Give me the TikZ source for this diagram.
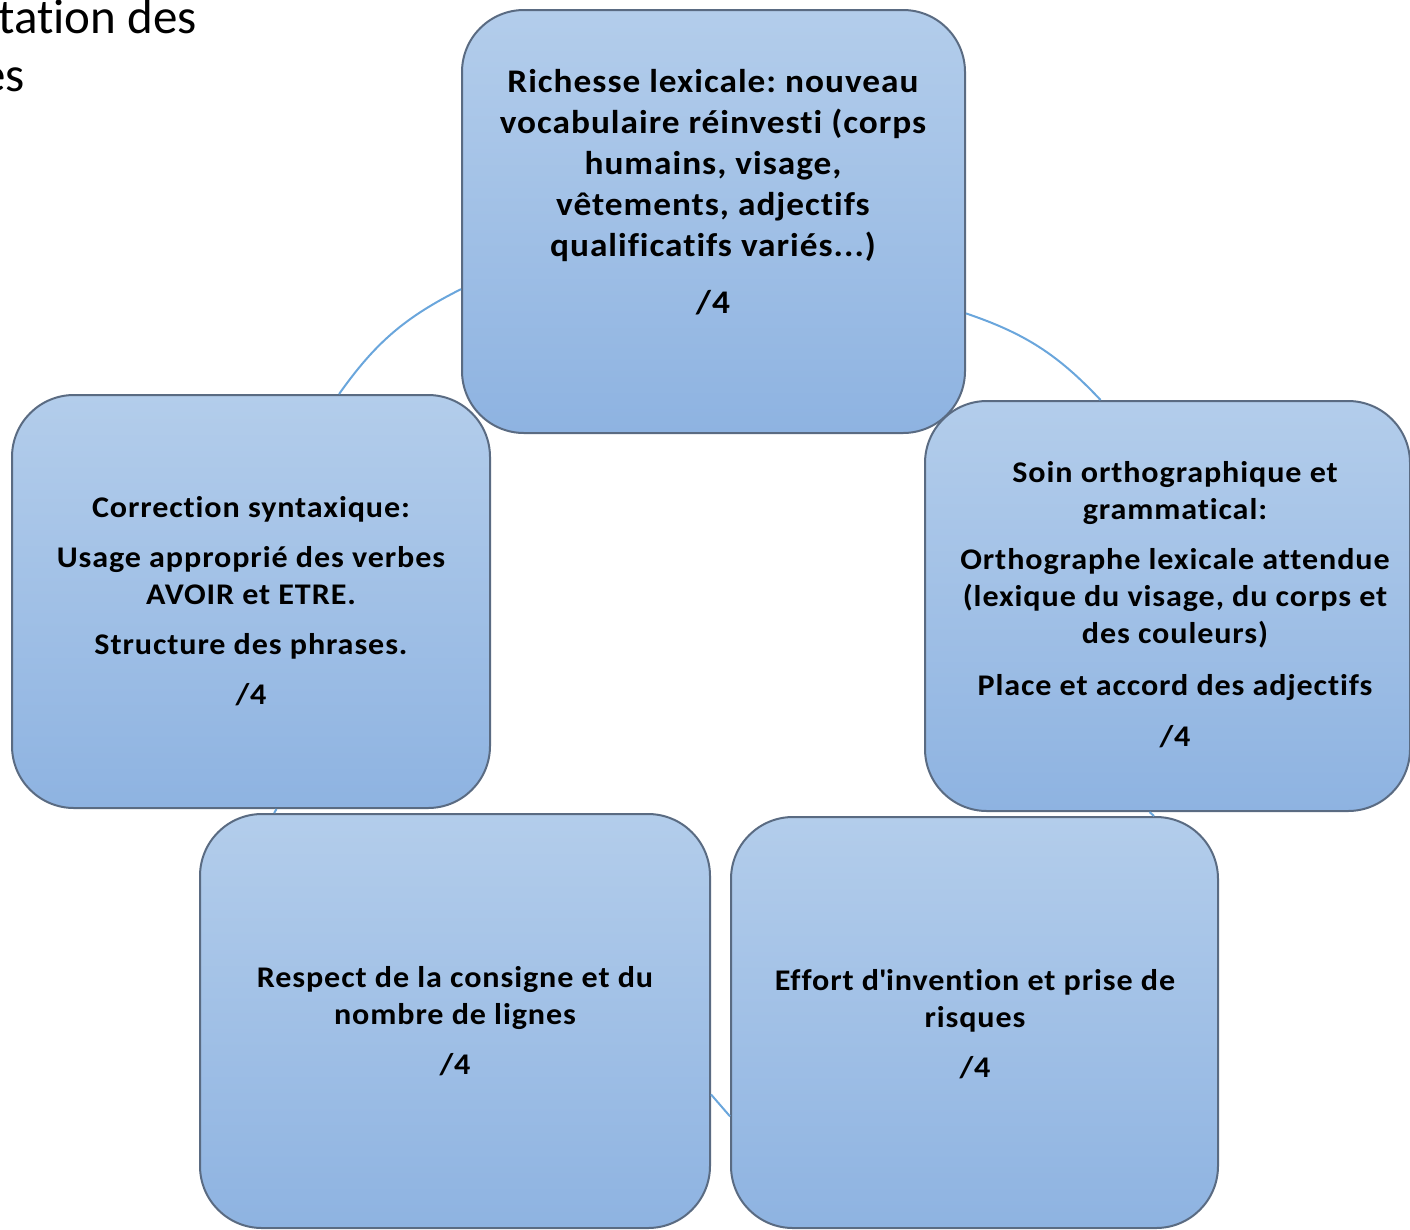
\documentclass[tikz,border=0pt]{standalone}
\usepackage{fontspec}
\setmainfont{Carlito}[Ligatures=NoCommon]
\newfontfamily\cardfont{Carlito}[LetterSpace=3, FakeStretch=1.07, Ligatures=NoCommon]
\definecolor{boxtop}{HTML}{B3CDEB}
\definecolor{boxbot}{HTML}{8EB3E1}
\definecolor{boxline}{HTML}{5A6B82}
\definecolor{linkc}{HTML}{6AA6DC}
\frenchspacing
\begin{document}
\begin{tikzpicture}[x=1pt,y=-1pt,
  card/.style={draw=boxline, line width=2pt, rounded corners=62pt,
    top color=boxtop, bottom color=boxbot, inner sep=0pt},
  cardtext/.style={align=center, text=black, inner sep=0pt,
    font=\cardfont\bfseries\fontsize{30}{37}\selectfont},
  toptext/.style={align=center, text=black, inner sep=0pt,
    font=\cardfont\bfseries\fontsize{33}{41}\selectfont},
  titletext/.style={text=black, inner sep=0pt, font=\fontsize{49}{58}\selectfont},
  linkline/.style={draw=linkc, line width=2pt}]
\useasboundingbox (0,0) rectangle (1410,1229);
\clip (0,0) rectangle (1410,1229);

% title (cut off at the left edge, as in the reference)
\node[titletext, anchor=base east] (title1) at (197,33) {tation des};
\node[titletext, anchor=base east] (title2) at (25,91) {es};

% boxes
\node[card, minimum width=503pt, minimum height=423pt] (top) at (713.5,221.5) {};
\node[card, minimum width=478pt, minimum height=413pt] (left) at (251,601.5) {};
\node[card, minimum width=485pt, minimum height=410pt] (right) at (1167.5,606) {};
\node[card, minimum width=510pt, minimum height=414pt] (bl) at (455,1021) {};
\node[card, minimum width=487pt, minimum height=411pt] (br) at (974.5,1022.5) {};

% connectors
\draw[linkline] (top.195) to[bend right=14] (left.67);
\draw[linkline] (top.-20) to[bend left=14] (right.108);
\draw[linkline] (left.-83) -- (bl.131);
\draw[linkline] (right.-95) -- (br.49.5);
\draw[linkline] (bl.-16.6) -- (br.201);

% texts
\node[toptext] (topT) at (713,192) {Richesse lexicale: nouveau\\vocabulaire réinvesti (corps\\humains, visage,\\vêtements, adjectifs\\qualificatifs variés...)\\[16pt]/4};
\node[cardtext] (leftT) at (251,601) {Correction syntaxique:\\[13pt]Usage approprié des verbes\\AVOIR et ETRE.\\[13pt]Structure des phrases.\\[13pt]/4};
\node[cardtext] (rightT) at (1175,605) {Soin orthographique et\\grammatical:\\[13pt]Orthographe lexicale attendue\\(lexique du visage, du corps et\\des couleurs)\\[15pt]Place et accord des adjectifs\\[14pt]/4};
\node[cardtext] (blT) at (455,1021) {Respect de la consigne et du\\nombre de lignes\\[13pt]/4};
\node[cardtext] (brT) at (975,1024) {Effort d\textquotesingle invention et prise de\\risques\\[13pt]/4};
\end{tikzpicture}
\end{document}
